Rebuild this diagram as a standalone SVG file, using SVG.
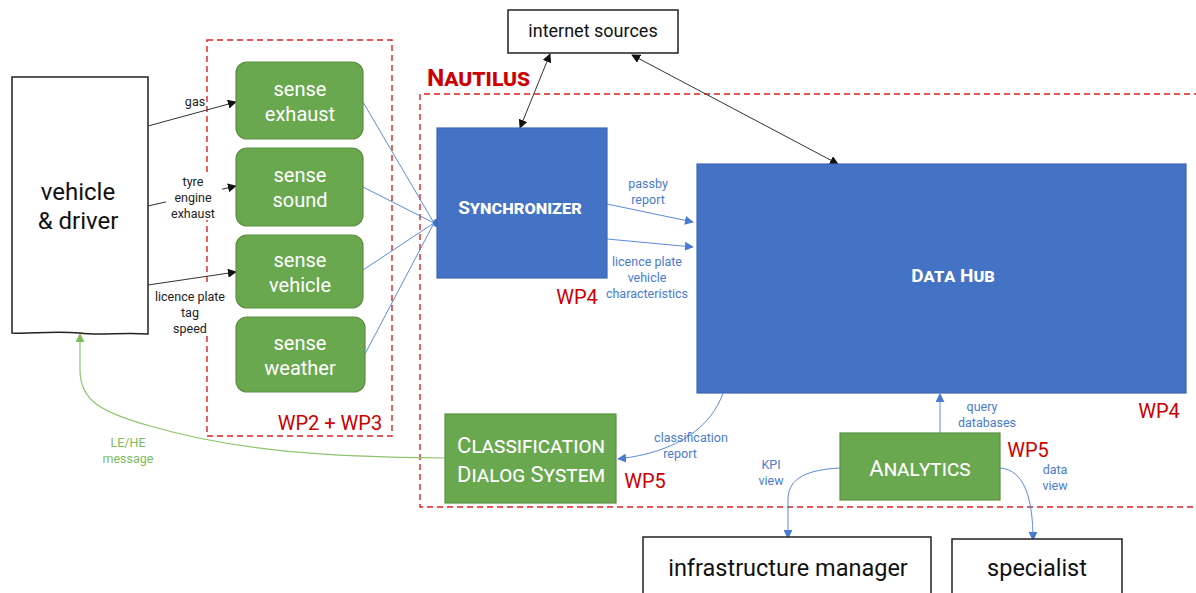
<svg xmlns="http://www.w3.org/2000/svg" width="1196" height="593" viewBox="0 0 1196 593">
<defs>
<style>
text{font-family:Roboto,"Liberation Sans",sans-serif}
.wbox{fill:#fff;stroke:#222;stroke-width:1.5}
.green{fill:#6aa84f;stroke:#5a9040;stroke-width:1.2}
.blue{fill:#4472c4;stroke:#3d67b5;stroke-width:1.2}
.wt{fill:#fff;text-anchor:middle}
.sc{font-variant:small-caps;font-weight:bold}
.red{fill:#cc0000}
.dash{fill:none;stroke:#e02020;stroke-width:1.4;stroke-dasharray:6,4}
.bl{fill:#4a7bd0;font-size:12.5px;text-anchor:middle}
.gl{fill:#7dbb5c;font-size:12.5px;text-anchor:middle}
.kl{fill:#222;font-size:12.5px;text-anchor:middle}
.kline{fill:none;stroke:#333;stroke-width:1}
.bline{fill:none;stroke:#5b8be0;stroke-width:1}
.gline{fill:none;stroke:#8cc56b;stroke-width:1.2}
</style>
<marker id="ak" viewBox="0 0 10 10" refX="9" refY="5" markerWidth="9" markerHeight="9" markerUnits="userSpaceOnUse" orient="auto-start-reverse"><path d="M0,0L10,5L0,10z" fill="#111"/></marker>
<marker id="ab" viewBox="0 0 10 10" refX="9" refY="5" markerWidth="9" markerHeight="9" markerUnits="userSpaceOnUse" orient="auto"><path d="M0,0L10,5L0,10z" fill="#4a7bd0"/></marker>
<marker id="ag" viewBox="0 0 10 10" refX="9" refY="5" markerWidth="9" markerHeight="9" markerUnits="userSpaceOnUse" orient="auto"><path d="M0,0L10,5L0,10z" fill="#7dbb5c"/></marker>
</defs>
<rect width="1196" height="593" fill="#fff"/>

<g id="boundaries">
<rect class="dash" x="207" y="40" width="185" height="396"/>
<text class="red" x="330" y="430" font-size="20" text-anchor="middle">WP2 + WP3</text>
<path class="dash" d="M1200,94 H420 V507 H1200"/>
<text class="red sc" x="427" y="86" font-size="24.5">Nautilus</text>
<text class="red" x="1159" y="418" font-size="20" text-anchor="middle">WP4</text>
</g>

<g id="connectors">
<line class="kline" x1="148" y1="126" x2="236" y2="102" marker-end="url(#ak)"/>
<line class="kline" x1="148" y1="206" x2="236" y2="186" marker-end="url(#ak)"/>
<line class="kline" x1="148" y1="285" x2="236" y2="272" marker-end="url(#ak)"/>
<rect x="166" y="172" width="56" height="48" fill="#fff"/>
<rect x="152" y="286" width="76" height="50" fill="#fff"/>
<text class="kl" x="195" y="106">gas</text>
<text class="kl" x="193" y="186">tyre</text>
<text class="kl" x="193" y="202">engine</text>
<text class="kl" x="193" y="218">exhaust</text>
<text class="kl" x="190" y="301">licence plate</text>
<text class="kl" x="190" y="317">tag</text>
<text class="kl" x="190" y="333">speed</text>

<line class="bline" x1="363" y1="102" x2="434" y2="223"/>
<line class="bline" x1="363" y1="187" x2="434" y2="223"/>
<line class="bline" x1="363" y1="270" x2="434" y2="223"/>
<line class="bline" x1="365" y1="354" x2="434" y2="223"/>
<circle cx="437" cy="223" r="4" fill="#4472c4"/>

<line class="kline" x1="550" y1="54" x2="520" y2="128" marker-start="url(#ak)" marker-end="url(#ak)"/>
<line class="kline" x1="632" y1="55" x2="838" y2="164" marker-start="url(#ak)" marker-end="url(#ak)"/>

<line class="bline" x1="607" y1="204" x2="693" y2="222" marker-end="url(#ab)"/>
<line class="bline" x1="607" y1="239" x2="693" y2="247" marker-end="url(#ab)"/>
<text class="bl" x="648" y="188">passby</text>
<text class="bl" x="648" y="204">report</text>
<text class="bl" x="647" y="266">licence plate</text>
<text class="bl" x="647" y="282">vehicle</text>
<text class="bl" x="647" y="298">characteristics</text>

<path class="bline" d="M723,393 C712,425 680,452 618,459" marker-end="url(#ab)"/>
<text class="bl" x="691" y="442">classification</text>
<text class="bl" x="680" y="458">report</text>

<line class="bline" x1="940" y1="433" x2="940" y2="394" marker-end="url(#ab)"/>
<text class="bl" x="982" y="411">query</text>
<text class="bl" x="987" y="427">databases</text>

<path class="bline" d="M840,468 C800,470 788,482 788,500 V538" marker-end="url(#ab)"/>
<text class="bl" x="771" y="469">KPI</text>
<text class="bl" x="771" y="485">view</text>
<path class="bline" d="M1000,468 C1025,470 1033,500 1033,540" marker-end="url(#ab)"/>
<text class="bl" x="1055" y="474">data</text>
<text class="bl" x="1055" y="490">view</text>

<path class="gline" d="M445,458 C330,457 240,452 150,426 C100,412 80,400 80,370 V334" marker-end="url(#ag)"/>
<rect x="100" y="432" width="58" height="36" fill="#fff"/>
<text class="gl" x="128" y="447">LE/HE</text>
<text class="gl" x="128" y="463">message</text>
</g>

<g id="vehicle-driver">
<path class="wbox" d="M12,77 H148 V334 C120,332 100,336 80,333 C50,331 30,334 12,333 Z"/>
<text x="78" y="200" font-size="24" text-anchor="middle" fill="#111">vehicle</text>
<text x="78" y="229" font-size="24" text-anchor="middle" fill="#111">&amp; driver</text>
</g>

<g id="sense-exhaust">
<rect class="green" x="236" y="62" width="127" height="77" rx="11"/>
<text class="wt" x="300" y="96" font-size="20">sense</text>
<text class="wt" x="300" y="121" font-size="20">exhaust</text>
</g>
<g id="sense-sound">
<rect class="green" x="236" y="148" width="127" height="78" rx="11"/>
<text class="wt" x="300" y="182" font-size="20">sense</text>
<text class="wt" x="300" y="207" font-size="20">sound</text>
</g>
<g id="sense-vehicle">
<rect class="green" x="236" y="235" width="127" height="73" rx="11"/>
<text class="wt" x="300" y="267" font-size="20">sense</text>
<text class="wt" x="300" y="292" font-size="20">vehicle</text>
</g>
<g id="sense-weather">
<rect class="green" x="236" y="317" width="129" height="75" rx="11"/>
<text class="wt" x="300" y="350" font-size="20">sense</text>
<text class="wt" x="300" y="375" font-size="20">weather</text>
</g>

<g id="internet-sources">
<rect class="wbox" x="508" y="10" width="170" height="43"/>
<text x="593" y="37" font-size="18" text-anchor="middle" fill="#111">internet sources</text>
</g>

<g id="synchronizer">
<rect class="blue" x="437" y="128" width="170" height="150"/>
<text class="wt sc" x="520" y="214" font-size="19">Synchronizer</text>
<text class="red" x="577" y="304" font-size="20" text-anchor="middle">WP4</text>
</g>

<g id="data-hub">
<rect class="blue" x="697" y="164" width="489" height="229"/>
<text class="wt sc" x="953" y="282" font-size="19">Data Hub</text>
</g>

<g id="classification-dialog-system">
<rect class="green" x="445" y="414" width="171" height="89"/>
<text class="wt" x="531" y="453" font-size="22" style="font-variant:small-caps">Classification</text>
<text class="wt" x="531" y="482" font-size="22" style="font-variant:small-caps">Dialog System</text>
<text class="red" x="645" y="488" font-size="20" text-anchor="middle">WP5</text>
</g>

<g id="analytics">
<rect class="green" x="840" y="433" width="160" height="67"/>
<text class="wt" x="920" y="476" font-size="22" style="font-variant:small-caps">Analytics</text>
<text class="red" x="1028" y="457" font-size="20" text-anchor="middle">WP5</text>
</g>

<g id="infrastructure-manager">
<rect class="wbox" x="643" y="537" width="288" height="62"/>
<text x="788" y="576" font-size="23.5" text-anchor="middle" fill="#111">infrastructure manager</text>
</g>

<g id="specialist">
<rect class="wbox" x="952" y="539" width="170" height="60"/>
<text x="1037" y="576" font-size="23.5" text-anchor="middle" fill="#111">specialist</text>
</g>
</svg>
